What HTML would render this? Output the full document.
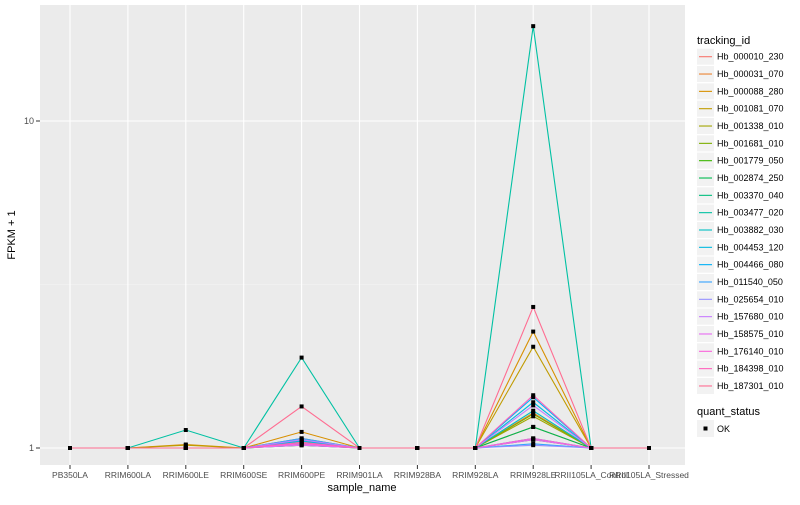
<!DOCTYPE html>
<html><head><meta charset="utf-8"><style>
body{margin:0;background:#fff;font-family:"Liberation Sans",sans-serif;}
svg text{font-family:"Liberation Sans",sans-serif;}
</style></head><body>
<svg id="chart" width="800" height="500" xmlns="http://www.w3.org/2000/svg">
<rect x="0" y="0" width="800" height="500" fill="#fff"/>
<rect x="40" y="5" width="645" height="460" fill="#EBEBEB"/>
<g id="grid"></g>
<g id="lines"></g>
<g id="points"></g>
<text x="362" y="491" font-size="11" text-anchor="middle" fill="#000">sample_name</text>
<text x="15" y="235" font-size="11" text-anchor="middle" fill="#000" transform="rotate(-90 15 235)">FPKM + 1</text>
<g id="legend"></g>
</svg>
<script>
const samples=["PB350LA","RRIM600LA","RRIM600LE","RRIM600SE","RRIM600PE","RRIM901LA","RRIM928BA","RRIM928LA","RRIM928LE","RRII105LA_Control","RRII105LA_Stressed"];
const trackingIds=["Hb_000010_230","Hb_000031_070","Hb_000088_280","Hb_001081_070","Hb_001338_010","Hb_001681_010","Hb_001779_050","Hb_002874_250","Hb_003370_040","Hb_003477_020","Hb_003882_030","Hb_004453_120","Hb_004466_080","Hb_011540_050","Hb_025654_010","Hb_157680_010","Hb_158575_010","Hb_176140_010","Hb_184398_010","Hb_187301_010"];
const colors=["#F8766D","#EA8331","#D89000","#C09B00","#A3A500","#7CAE00","#39B600","#00BB4E","#00BF7D","#00C1A3","#00BFC4","#00BAE0","#00B0F6","#35A2FF","#9590FF","#C77CFF","#E76BF3","#FA62DB","#FF62BC","#FF6C91"];
const valuesLE=[1,1,1.025,1.02,1,1,1,1,1,1.135,1,1,1,1,1,1,1,1,1,1];
const valuesPE=[1.03,1.04,1.12,1.07,1.05,1.04,1.02,1.03,1.02,1.89,1.06,1.05,1.06,1.07,1.03,1.06,1.02,1.03,1.04,1.34];
const values928LE=[1.16,1.28,2.27,2.04,1.25,1.27,1.06,1.16,1.07,19.5,1.30,1.38,1.43,1.03,1.02,1.35,1.06,1.07,1.45,2.70];
const yTicks=[1,10];
const yTickLabels=["1","10"];

const NS="http://www.w3.org/2000/svg";
function mk(tag,attrs,parent){const e=document.createElementNS(NS,tag);for(const k in attrs)e.setAttribute(k,attrs[k]);parent.appendChild(e);return e;}
const xScale=i=>70+i*57.9;
const yScale=v=>448-327*Math.log10(v);
function val(s,i){
  if(i===2)return valuesLE[s];
  if(i===4)return valuesPE[s];
  if(i===8)return values928LE[s];
  return 1;
}
const grid=document.getElementById('grid');
const minorY=yScale(Math.sqrt(10));
let g=mk('line',{x1:40,x2:685,y1:minorY,y2:minorY,stroke:'#F5F5F5','stroke-width':0.6},grid);


yTicks.forEach((t,i)=>{
  const y=yScale(t);
  const l=mk('line',{x1:40,x2:685,y1:y,y2:y,stroke:'#fff','stroke-width':1.1},grid);
  
  
  const tk=mk('line',{x1:36,x2:40,y1:y,y2:y,stroke:'#333','stroke-width':1},grid);
  
  
  const tx=mk('text',{x:34,y:y+3,'font-size':9,'text-anchor':'end',fill:'#4D4D4D'},grid);
  tx.textContent=yTickLabels[i];
  
  
});
samples.forEach((s,i)=>{
  const x=xScale(i);
  const l=mk('line',{x1:x,x2:x,y1:5,y2:465,stroke:'#fff','stroke-width':1.1},grid);
  
  
  const tk=mk('line',{x1:x,x2:x,y1:465,y2:469,stroke:'#333','stroke-width':1},grid);
  
  
  const tx=mk('text',{x:x,y:478,'font-size':8.5,'text-anchor':'middle',fill:'#4D4D4D'},grid);
  tx.textContent=s;
  
  
});
const lines=document.getElementById('lines'),pts=document.getElementById('points');
trackingIds.forEach((id,s)=>{
  const d=samples.map((_,i)=>xScale(i)+','+yScale(val(s,i))).join(' ');
  const p=mk('polyline',{points:d,fill:'none',stroke:colors[s],'stroke-width':1.1},lines);
  
  
  samples.forEach((_,i)=>{
    const r=mk('rect',{x:xScale(i)-2,y:yScale(val(s,i))-2,width:4,height:4,fill:'#000'},pts);
    
    
  });
});
const lg=document.getElementById('legend');
let t=mk('text',{x:697,y:44,'font-size':11,fill:'#000'},lg);
t.textContent='tracking_id';


trackingIds.forEach((id,i)=>{
  const cy=56.7+i*17.33;
  const k=mk('rect',{x:697,y:cy-8,width:17,height:16,fill:'#F2F2F2'},lg);
  
  
  const l=mk('line',{x1:699,x2:712,y1:cy,y2:cy,stroke:colors[i],'stroke-width':1.1},lg);
  
  
  const tx=mk('text',{x:717,y:cy+3,'font-size':9,fill:'#000'},lg);
  tx.textContent=id;
  
  
});
t=mk('text',{x:697,y:415,'font-size':11,fill:'#000'},lg);
t.textContent='quant_status';


let k=mk('rect',{x:697,y:420,width:17,height:17,fill:'#F2F2F2'},lg);


k=mk('rect',{x:703.5,y:426.5,width:4,height:4,fill:'#000'},lg);


t=mk('text',{x:717,y:432,'font-size':9,fill:'#000'},lg);
t.textContent='OK';


</script>
</body></html>
